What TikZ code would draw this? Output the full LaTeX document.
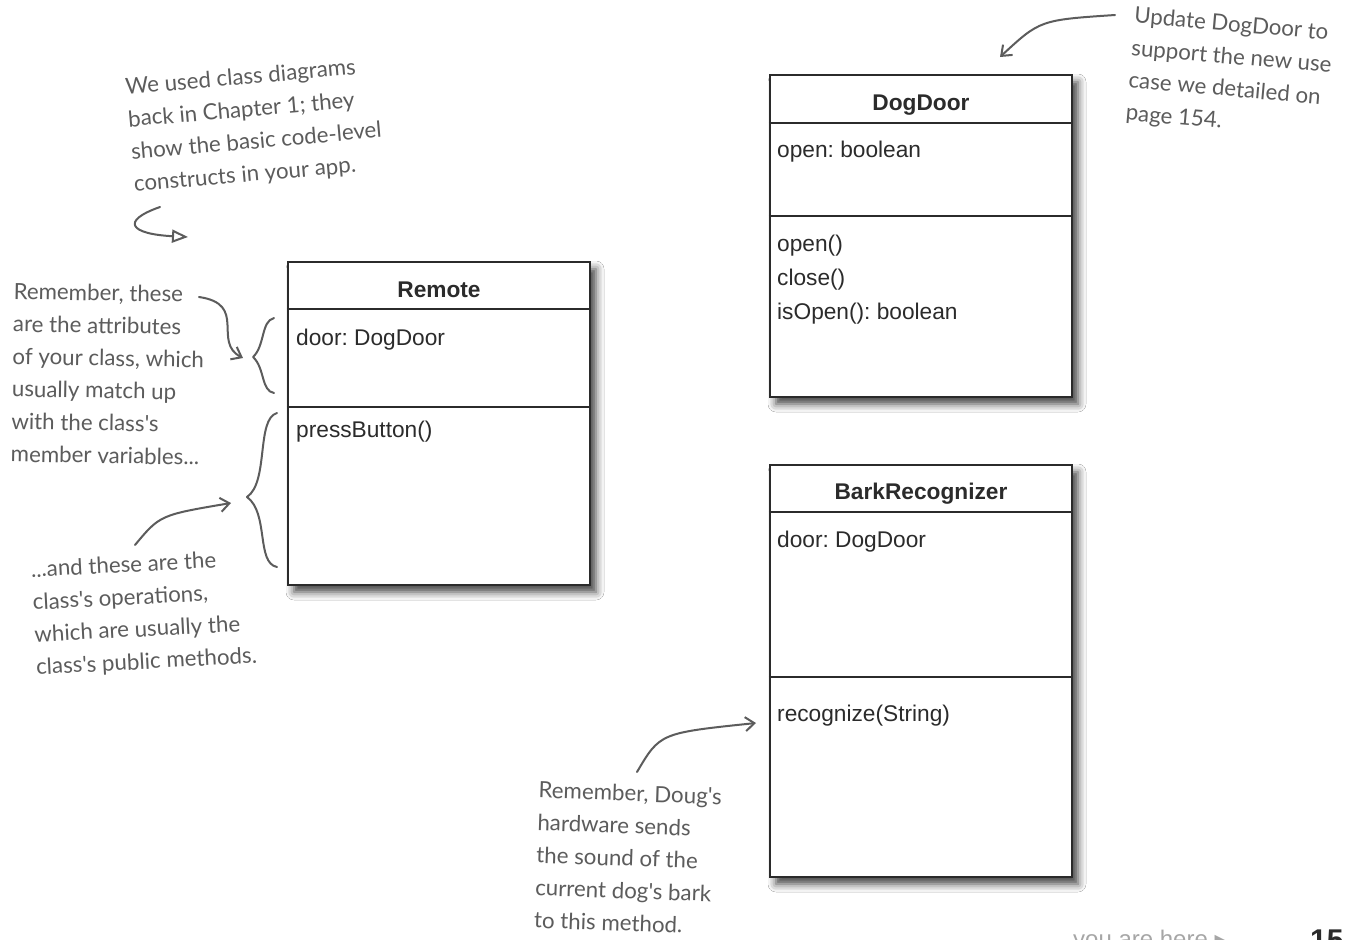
\documentclass[tikz,border=0pt]{standalone}
\usepackage{fontspec}
\setmainfont{Liberation Sans}
\newfontfamily\hand{Lato}
\newfontfamily\symb{DejaVu Sans}
\usetikzlibrary{arrows.meta,shadows.blur}
\definecolor{ink}{HTML}{2B2B2B}
\definecolor{pencil}{HTML}{5C5C5C}
\frenchspacing
\tikzset{
  umlbox/.style={draw=ink, line width=2.4pt, fill=white, inner sep=0pt,
    blur shadow={shadow xshift=6pt, shadow yshift=-7pt, shadow blur radius=8pt, shadow opacity=75}},
  compline/.style={draw=ink, line width=2pt},
  hdr/.style={font=\fontsize{22.7}{27}\selectfont\bfseries, text=ink, anchor=base, inner sep=0pt},
  member/.style={font=\fontsize{22.7}{34}\selectfont, text=ink, anchor=base west, inner sep=0pt},
  note/.style={font=\hand\fontsize{22.3}{32.5}\selectfont, text=pencil, align=left, inner sep=0pt},
  pen/.style={draw=pencil, line width=2pt, line cap=round, line join=round},
  penarrow/.style={pen, -{Straight Barb[length=9pt,width=14pt,line width=2pt]}},
}
\begin{document}
\begin{tikzpicture}[x=1pt,y=-1pt]
\fill[white] (0,0) rectangle (1345,940);
\useasboundingbox (0,0) rectangle (1345,940);
\clip (0,0) rectangle (1345,940);

% ---------- Remote ----------
\node[umlbox, minimum width=302pt, minimum height=323pt] (remote) at (439,423.5) {};
\draw[compline] (remote.west |- 0,309) -- (remote.east |- 0,309);
\draw[compline] (remote.west |- 0,407) -- (remote.east |- 0,407);
\node[hdr] (remoteT) at (439,297) {Remote};
\node[member] (remoteA) at (296,345) {door: DogDoor};
\node[member] (remoteO) at (296,437) {pressButton()};

% ---------- DogDoor ----------
\node[umlbox, minimum width=302pt, minimum height=322pt] (dogdoor) at (921,236) {};
\draw[compline] (dogdoor.west |- 0,123) -- (dogdoor.east |- 0,123);
\draw[compline] (dogdoor.west |- 0,216) -- (dogdoor.east |- 0,216);
\node[hdr] (dogdoorT) at (921,110) {DogDoor};
\node[member] (dogdoorA) at (777,157) {open: boolean};
\node[member] (dogdoorO1) at (777,251) {open()};
\node[member] (dogdoorO2) at (777,285) {close()};
\node[member] (dogdoorO3) at (777,319) {isOpen(): boolean};

% ---------- BarkRecognizer ----------
\node[umlbox, minimum width=302pt, minimum height=412pt] (bark) at (921,671) {};
\draw[compline] (bark.west |- 0,512) -- (bark.east |- 0,512);
\draw[compline] (bark.west |- 0,677) -- (bark.east |- 0,677);
\node[hdr] (barkT) at (921,499) {BarkRecognizer};
\node[member] (barkA) at (777,547) {door: DogDoor};
\node[member] (barkO) at (777,721) {recognize(String)};

% ---------- notes ----------
\node[note, rotate=5] (n1) at (255,126) {We used class diagrams\\back in Chapter 1; they\\show the basic code-level\\constructs in your app.};
\node[note, rotate=-1] (n2) at (108,374) {Remember, these\\are the attributes\\of your class, which\\usually match up\\with the class's\\member variables...};
\node[note, rotate=3] (n3) at (144,614) {...and these are the\\class's operations,\\which are usually the\\class's public methods.};
\node[note, rotate=-5] (n4) at (1230,74) {Update DogDoor to\\support the new use\\case we detailed on\\page 154.};
\node[note, rotate=-2] (n5) at (628,858) {Remember, Doug's\\hardware sends\\the sound of the\\current dog's bark\\to this method.};

% ---------- braces ----------
\draw[pen] (274,318) .. controls (261,321) and (265,346) .. (253,357)
                     .. controls (265,368) and (261,391) .. (274,393);
\draw[pen] (277,413) .. controls (256,419) and (269,482) .. (247,497)
                     .. controls (269,513) and (256,563) .. (277,567);

% ---------- arrows ----------
\coordinate (h1s) at (160,207);
\coordinate (h1e) at (188,237);
\draw[pen, -{Triangle[open,length=16pt,width=13pt,line width=2pt]}] (h1s) .. controls (120,221) and (130,234) .. (h1e);

\coordinate (a2s) at (199,297);
\coordinate (a2e) at (243,358);
\draw[penarrow] (a2s) .. controls (248,304) and (212,342) .. (a2e);

\coordinate (a3s) at (135,545);
\coordinate (a3e) at (231,503);
\draw[penarrow] (a3s) .. controls (160,515) .. (a3e);

\coordinate (a4s) at (1115,15);
\coordinate (a4e) at (1000,57);
\draw[penarrow] (a4s) .. controls (1040,20) .. (a4e);

\coordinate (a5s) at (637,772);
\coordinate (a5e) at (756,723);
\draw[penarrow] (a5s) .. controls (660,733) .. (a5e);

% ---------- footer (cut off) ----------
\node[font=\fontsize{24}{28}\selectfont, text=gray!70, anchor=base west, inner sep=0pt] (yah) at (1073,947) {you are here {\symb ▸}};
\node[font=\fontsize{30}{34}\selectfont\bfseries, text=ink, anchor=base west, inner sep=0pt] (pg) at (1310,950) {155};
\end{tikzpicture}
\end{document}
